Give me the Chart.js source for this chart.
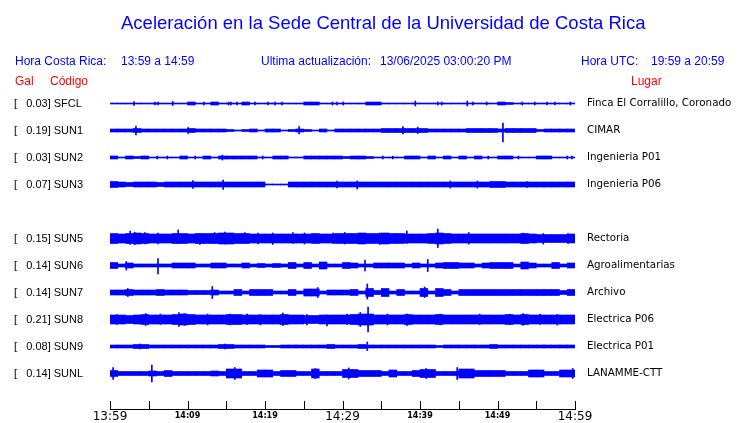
<!DOCTYPE html>
<html lang="es">
<head>
<meta charset="utf-8">
<title>Aceleración Sede Central</title>
<script src="https://cdn.jsdelivr.net/npm/chart.js@4.4.1/dist/chart.umd.min.js"></script>
<style>
  html, body { margin: 0; padding: 0; background: #fff; }
  #wrap { position: relative; width: 740px; height: 423px; overflow: hidden; }
  #seis { position: absolute; left: 0; top: 0; }
  .t { position: absolute; white-space: pre; line-height: 1; font-family: "Liberation Sans", Arial, sans-serif; font-size: 12px; color: #0000ff; }
  .title { font-size: 18.5px; }
  .red { color: #ff0000; }
</style>
</head>
<body>
<div id="wrap">
  <canvas id="seis" width="740" height="423"></canvas>
  <div class="t title" style="left:121px;top:14px">Aceleración en la Sede Central de la Universidad de Costa Rica</div>
  <div class="t" style="left:15px;top:55px">Hora Costa Rica:</div>
  <div class="t" style="left:121px;top:55px">13:59 a 14:59</div>
  <div class="t" style="left:261px;top:55px">Ultima actualización:</div>
  <div class="t" style="left:380px;top:55px">13/06/2025 03:00:20 PM</div>
  <div class="t" style="left:581px;top:55px">Hora UTC:</div>
  <div class="t" style="left:651px;top:55px">19:59 a 20:59</div>
  <div class="t red" style="left:15px;top:75px">Gal</div>
  <div class="t red" style="left:50px;top:75px">Código</div>
  <div class="t red" style="left:631px;top:75px">Lugar</div>
</div>
<script>
// stations, top to bottom (row 4 = SUN4 is not plotted)
const CODES = ["SFCL", "SUN1", "SUN2", "SUN3", "SUN5", "SUN6", "SUN7", "SUN8", "SUN9", "SUNL"];
const ROWS = [0, 1, 2, 3, 5, 6, 7, 8, 9, 10];
const PEAK_GAL = ["0.03", "0.19", "0.03", "0.07", "0.15", "0.14", "0.14", "0.21", "0.08", "0.14"];
const PLACES = ["Finca El Corralillo, Coronado", "CIMAR", "Ingenieria P01", "Ingenieria P06", "Rectoria",
                "Agroalimentarias", "Archivo", "Electrica P06", "Electrica P01", "LANAMME-CTT"];

// time axis (minutes after 13:59)
const TICK_MINUTES = [0, 10, 20, 30, 40, 50, 60];
const TICK_LABELS = ["13:59", "14:09", "14:19", "14:29", "14:39", "14:49", "14:59"];

// amplitude counts; one row spacing = 27 counts
const COUNTS_PER_ROW = 27;

// half-amplitude envelope per 1-minute bin (60 bins)
const ENV_SFCL = [.5,.5,.5,.5,.5,.5,.5,.5,.5,.5, 1.5,.5,.5,1.5,.5,.5,.5,1.5,.5,.5, .5,.5,.5,.5,.5,1.5,1.5,.5,.5,.5,
                  .5,.5,.5,1.5,1.5,.5,.5,.5,.5,.5, .5,.5,.5,.5,.5,.5,.5,.5,.5,.5, 1.5,1,.5,.5,.5,.5,.5,.5,.5,.5];
const ENV_SUN1 = [1.5,1.5,1.5,2,1.5,1.5,1.5,1.5,1.5,1.5, 2,1.5,1.5,1.5,1.5,1,.5,1,1.5,.5, 1.5,1.5,.5,1,1.5,1,.5,1.5,.5,1.5,
                  1.5,1.5,1.5,1.5,1.5,2,2,2,2,2, 2,1.5,1.5,1.5,1.5,1.5,2,2,2,2, 1.5,2,2,2,2,1,1.5,1.5,1.5,1.5];
const ENV_SUN2 = [1.5,.5,1.5,1,1.5,.5,.5,.5,.5,1.5, .5,.5,1.5,.5,1.5,1.5,1.5,1.5,1.5,.5, .5,1.5,1.5,.5,.5,1.5,1.5,1.5,1.5,1.5,
                  1,1.5,1.5,1,.5,.5,.5,.5,1.5,1.5, .5,1.5,.5,1.5,.5,1.5,.5,1.5,.5,.5, 1.5,1.5,.5,.5,.5,1.5,1.5,.5,.5,.5];
const ENV_SUN3 = [3,2.5,2,2.5,2.5,2.5,2,2.5,2.5,2.5, 2.5,2.5,2.5,2.5,2.5,2.5,2.5,2.5,2.5,2.5, .5,.5,.5,2.5,2.5,2.5,2.5,2.5,2.5,2.5,
                  2.5,2.5,2.5,2.5,2.5,2.5,2.5,2.5,2.5,2.5, 2.5,2.5,2.5,2.5,2.5,2.5,2.5,2.5,2.5,3, 3,2.5,2.5,2.5,2.5,2.5,2.5,2.5,2.5,2.5];
const ENV_SUN5 = [5,4.5,5,5.5,5,4.5,4.5,4.5,5,5, 4.5,5,5,5,5.5,5.5,5,5,4.5,4.5, 4.5,4.5,4.5,4.5,4.5,4.5,5,4.5,4.5,5,
                  5,5,5.5,5,5,5.5,5,5,4.5,4.5, 4.5,5,5.5,5,4.5,4.5,4.5,4.5,4.5,4.5, 4.5,4.5,4.5,5,4.5,4,4,4,4,4.5];
const ENV_SUN6 = [3,1.5,2.5,1.5,1.5,1.5,1.5,1.5,2.5,2.5, 2.5,1.5,1.5,2.5,2.5,1.5,1.5,2.5,1.5,2, 1.5,2,1.5,3,1.5,3,1.5,3.5,1.5,1.5,
                  3,2.5,1.5,1.5,2.5,2.5,2.5,2.5,1.5,2.5, 1.5,1.5,2.5,3,3,2.5,2.5,1.5,2.5,3, 3,3,1.5,3.5,2.5,1.5,1.5,3,1.5,2.5];
const ENV_SUN7 = [2.5,2.5,3,2.5,2.5,2.5,3,2.5,2.5,2.5, 2,2,2,2.5,1.5,1.5,3,1.5,3,3, 3,1.5,1.5,3,1.5,3.5,3.5,1.5,2.5,2.5,
                  2.5,3,1.5,4,2,4,1.5,3,1.5,1.5, 4,1.5,4,3,1.5,3,3,3,3,3, 3,3,3,3,3,3,3,3,2,3];
const ENV_SUN8 = [4.5,4.5,4,4.5,5,4.5,4.5,4.5,5,5.5, 5,4.5,4.5,4.5,4.5,5,5,4.5,4.5,4.5, 4.5,4.5,5,4.5,4.5,4,4,4.5,4.5,4.5,
                  4.5,5,5.5,5.5,4.5,4.5,4.5,4.5,5,4.5, 4.5,4.5,5,4.5,4.5,4.5,4.5,4.5,4.5,4.5, 4.5,5,4.5,5,4.5,4.5,4.5,4.5,4.5,4.5];
const ENV_SUN9 = [1.5,1.5,1.5,2,2,1.5,1.5,1.5,1.5,1.5, 1.5,1.5,1.5,1.5,2,2,1.5,1.5,1.5,1.5, 1,1,1.5,1.5,1.5,1.5,1.5,1.5,2,1.5,
                  1.5,1.5,2,1.5,1.5,1.5,1.5,1.5,1.5,1.5, 1.5,1.5,1,1.5,1.5,1.5,1.5,1.5,1.5,2, 1.5,1.5,1.5,1.5,1.5,1.5,1.5,1.5,1.5,1.5];
const ENV_SUNL = [3,2,2,2,2,2.5,2,3,2,2, 2,2,2,2.5,2,4.5,4.5,2,2,3.5, 3.5,2,3,3,2,2,4.5,2,2,2,
                  4,4,3,3,3,2,3.5,2,2,3, 4,4,2,2,2,4.5,4.5,3,3,3, 3,2,2,2,3.5,3.5,2,2,3.5,3.5];

// isolated spikes: [minute, up, down] in counts
const SPK_SFCL = [[3.1,2,2],[5.8,1.5,1.5],[6.2,1.5,1.5],[8.1,2,2],[12.1,1.5,1.5],[15.3,1.5,1.5],[15.6,1.5,1.5],[16.4,1.5,1.5],
                  [18.7,1.5,1.5],[20.4,1.5,1.5],[21.3,1.5,1.5],[22.2,1.5,1.5],[28.7,1.5,1.5],[29.3,1.5,1.5],[30.1,1.5,1.5],
                  [39.4,2.5,2.5],[42.3,1.5,1.5],[42.8,1.5,1.5],[46.1,2.5,2.5],[46.8,1.5,1.5],[48.6,1.5,1.5],[53.2,1.5,1.5],
                  [54.8,1.5,1.5],[56.4,1.5,1.5],[57.4,1.5,1.5],[59.4,1.5,1.5]];
const SPK_SUN1 = [[3.35,4.5,4.5],[10.1,3,3],[24.4,4,3.5],[37.8,4,3.5],[39.7,3.5,3],[50.7,7.5,11.5]];
const SPK_SUN2 = [[6.1,1.5,1.5],[7.4,1.5,1.5],[11,1.5,1.5],[14.5,2.5,2.5],[19.7,1.5,1.5],[35.2,1.5,1.5],[36.5,1.5,1.5],
                  [48.8,1.5,1.5],[52.7,1.5,1.5],[59,1.5,1.5],[59.6,1.5,1.5]];
const SPK_SUN3 = [[10.7,4,4],[14.6,4.5,5],[29.3,3.5,3.5],[31.9,3.5,4.5],[43.9,3.5,3.5],[47.4,3.5,3.5],[53.8,3,3]];
const SPK_SUN5 = [[2.6,7.5,6],[3.2,6,6],[4.5,6,5.5],[6.2,5.5,5.5],[8.8,8.5,5],[11.6,5,6],[13.5,6,5],[14.8,6.5,5.5],
                  [17.4,6,5],[19.1,5.5,5.5],[21,5.5,6],[23.6,6,5],[25.1,5.5,5.5],[28.8,5.5,5],[30.3,6,5.5],
                  [34.8,5.5,6],[38.3,7.5,5],[42.3,9.5,9],[46.3,6,5.5],[53.3,5.5,5],[55.9,5,5.5],[59.1,5,5]];
const SPK_SUN6 = [[2.1,4,4.5],[6.2,7,8.5],[32.9,5.5,5.5],[41,6,6]];
const SPK_SUN7 = [[2.3,4,4],[13.2,6,6],[26.8,5,5],[33.2,8.5,6.5],[40.6,5.5,5]];
const SPK_SUN8 = [[0.9,5,5],[4.6,6,6],[6.5,5.5,5],[8.9,7,7],[9.6,6,6],[12.6,5.5,5.5],[15.5,5.5,5.5],[17.7,5.5,5],
                  [19.4,5,5.5],[22.3,6.5,6],[25.4,5,5.5],[28,4.5,6.5],[30.6,5.5,5],[32.3,7,7],[33.3,12.5,12.5],
                  [35.8,5.5,5.5],[38.3,5.5,6],[42.6,5.5,5.5],[47.7,5.5,5],[51.6,5,5],[53.3,6,6],[55.5,5.5,5],[57.7,5,5.5]];
const SPK_SUN9 = [[3.9,2.5,2.5],[14.8,2.5,2.5],[33.2,4.5,4]];
const SPK_SUNL = [[0.4,6,6],[5.4,8.5,8.5],[16.1,6,6],[26.5,5,5],[30.8,5.5,5.5],[40.8,5,5],[44.8,6,6],[59.7,5,5]];

const ENVELOPES = [ENV_SFCL, ENV_SUN1, ENV_SUN2, ENV_SUN3, ENV_SUN5, ENV_SUN6, ENV_SUN7, ENV_SUN8, ENV_SUN9, ENV_SUNL];
const SPIKES = [SPK_SFCL, SPK_SUN1, SPK_SUN2, SPK_SUN3, SPK_SUN5, SPK_SUN6, SPK_SUN7, SPK_SUN8, SPK_SUN9, SPK_SUNL];

const TRACE_BLUE = "#0000ff";

const datasets = [];
CODES.forEach((code, i) => {
    const row = ROWS[i];
    datasets.push({
        label: code,
        xAxisID: "x",
        data: ENVELOPES[i].map((a, k) => ({ x: k + 0.5, y: [row - a / COUNTS_PER_ROW, row + a / COUNTS_PER_ROW] })),
        backgroundColor: TRACE_BLUE,
        borderWidth: 0,
        grouped: false,
        categoryPercentage: 1,
        barPercentage: 1
    });
    datasets.push({
        label: code + " picos",
        xAxisID: "x2",
        data: SPIKES[i].map(s => ({ x: s[0], y: [row - s[1] / COUNTS_PER_ROW, row + s[2] / COUNTS_PER_ROW] })),
        backgroundColor: TRACE_BLUE,
        borderWidth: 0,
        grouped: false,
        barThickness: 1
    });
});

// tick marks pointing up from the time axis
const upTicks = {
    id: "upTicks",
    afterDraw(chart) {
        const { ctx, chartArea } = chart;
        const xs = chart.scales.x;
        ctx.save();
        ctx.strokeStyle = "#000";
        ctx.lineWidth = 1;
        ctx.beginPath();
        xs.ticks.forEach(t => {
            const px = Math.round(xs.getPixelForValue(t.value)) + 0.5;
            ctx.moveTo(px, chartArea.bottom);
            ctx.lineTo(px, chartArea.bottom - 8);
        });
        ctx.stroke();
        ctx.restore();
    }
};

const rowTicks = scale => { scale.ticks = ROWS.map(v => ({ value: v })); };
const yMin = -15.5 / 27;
const yMax = 305.5 / 27;

new Chart(document.getElementById("seis").getContext("2d"), {
    type: "bar",
    data: { datasets: datasets },
    options: {
        responsive: false,
        animation: false,
        events: [],
        layout: { padding: { left: 14, top: 88, right: 0, bottom: 0 } },
        plugins: { legend: { display: false }, tooltip: { enabled: false } },
        scales: {
            x: {
                type: "linear",
                position: "bottom",
                min: 0,
                max: 60,
                offset: false,
                afterFit: s => { s.height = 14; },
                grid: { display: false, drawTicks: false },
                border: { display: true, color: "#000", width: 1 },
                ticks: {
                    stepSize: 5,
                    autoSkip: false,
                    maxRotation: 0,
                    padding: 1,
                    color: "#000",
                    callback: v => {
                        const idx = TICK_MINUTES.indexOf(v);
                        return idx >= 0 ? TICK_LABELS[idx] : "";
                    },
                    font: ctx => (ctx.tick && ctx.tick.value % 30 === 0)
                        ? { family: "DejaVu Sans", size: 12 }
                        : { family: "DejaVu Sans", size: 8, weight: "bold", lineHeight: 1.5 }
                }
            },
            x2: { type: "linear", min: 0, max: 60, offset: false, display: false },
            y: {
                type: "linear",
                position: "left",
                min: yMin,
                max: yMax,
                reverse: true,
                afterFit: s => { s.width = 96; },
                afterBuildTicks: rowTicks,
                grid: { display: false, drawTicks: false },
                border: { display: false },
                ticks: {
                    autoSkip: false,
                    crossAlign: "far",
                    padding: 0,
                    color: "#000",
                    font: { family: "Liberation Sans", size: 11 },
                    callback: (v, i) => "[   " + PEAK_GAL[i] + "] " + CODES[i]
                }
            },
            y2: {
                type: "linear",
                position: "right",
                min: yMin,
                max: yMax,
                reverse: true,
                afterFit: s => { s.width = 165; },
                afterBuildTicks: rowTicks,
                grid: { display: false, drawTicks: true, tickLength: 12 },
                border: { display: false },
                ticks: {
                    autoSkip: false,
                    padding: 0,
                    color: "#000",
                    font: { family: "DejaVu Sans", size: 10.3 },
                    callback: (v, i) => PLACES[i]
                }
            }
        }
    },
    plugins: [upTicks]
});
</script>
</body>
</html>
